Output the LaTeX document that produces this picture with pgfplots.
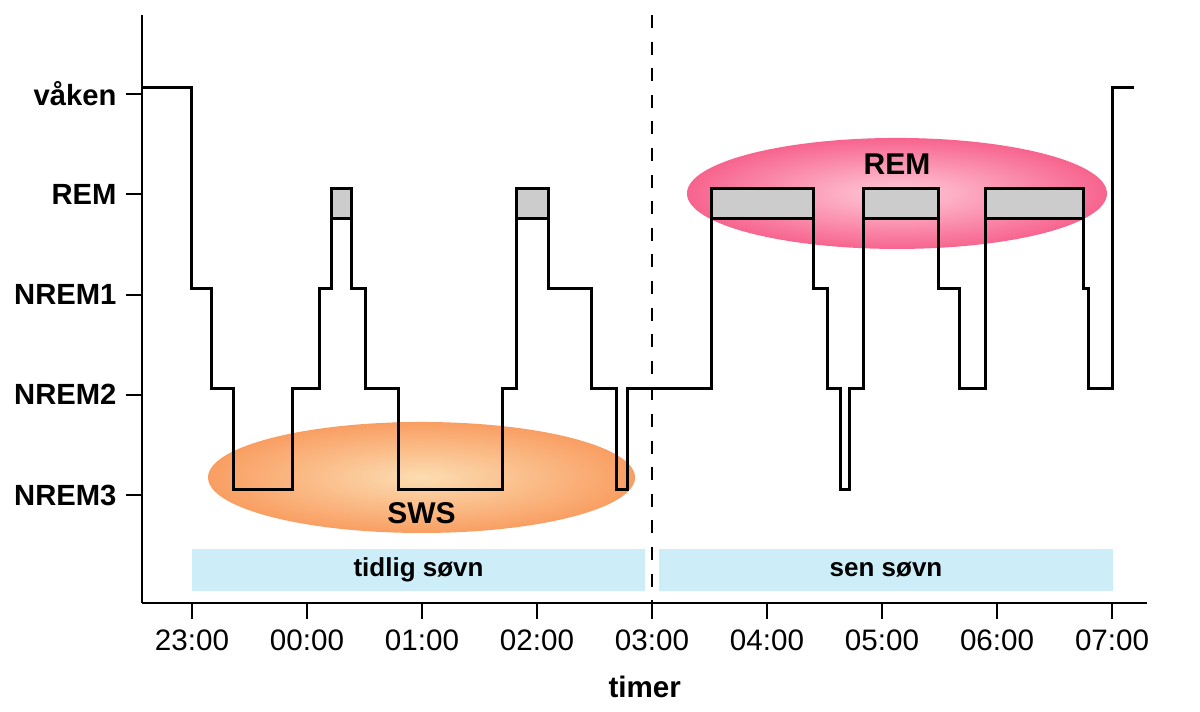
\documentclass[border=0pt]{standalone}
\usepackage{fontspec}
\setmainfont{Liberation Sans}
\usepackage{pgfplots}
\pgfplotsset{compat=1.18}
\definecolor{bandblue}{HTML}{CDEEF8}
\definecolor{remgray}{HTML}{CCCCCC}
\definecolor{swsouter}{HTML}{F99E62}
\definecolor{swsinner}{HTML}{FCDDB2}
\definecolor{remouter}{HTML}{F7648E}
\definecolor{reminner}{HTML}{FFCBDA}
\begin{document}
\begin{tikzpicture}
\useasboundingbox (-71.25pt,-54.5pt) rectangle (528.75pt,301.5pt);
\begin{axis}[
  scale only axis, width=502.25pt, height=294pt,
  xmin=-0.43, xmax=8.304, ymin=-1.137, ymax=4.728,
  axis x line*=bottom, axis y line*=left,
  axis line style={line width=1pt, black},
  tick style={line width=1pt, black},
  tick align=outside, major tick length=8pt,
  xtick={0,1,2,3,4,5,6,7,8},
  xticklabels={23:00,00:00,01:00,02:00,03:00,04:00,05:00,06:00,07:00},
  ytick={-0.06,0.94,1.94,2.94,3.94},
  yticklabels={NREM3,NREM2,NREM1,REM,våken},
  xticklabel style={font=\fontsize{14.8}{17}\selectfont, yshift=-2pt},
  yticklabel style={font=\fontsize{14.6}{17}\selectfont\bfseries, xshift=-1.5pt},
  xlabel={timer},
  xlabel style={font=\fontsize{14.8}{17}\selectfont\bfseries, at={(axis description cs:0.5,0)}, anchor=center, yshift=-42pt},
  clip=false,
  /pgf/number format/assume math mode=true,
]
% highlight ellipses
\shade[inner color=swsinner, outer color=swsouter] (axis cs:1.996,0.115) ellipse [x radius=106.75pt, y radius=27.75pt];
\shade[inner color=reminner, outer color=remouter] (axis cs:6.130,2.948) ellipse [x radius=105pt, y radius=27.75pt];
% period bands
\fill[bandblue] (axis cs:0,-0.599) rectangle (axis cs:3.939,-1.017);
\fill[bandblue] (axis cs:4.061,-0.599) rectangle (axis cs:8.009,-1.017);
\node[font=\fontsize{13}{15}\selectfont\bfseries] at (axis cs:1.97,-0.808) {tidlig søvn};
\node[font=\fontsize{13}{15}\selectfont\bfseries] at (axis cs:6.035,-0.808) {sen søvn};
% REM boxes
\addplot[draw=black, line width=1.5pt, fill=remgray] coordinates {(1.217,2.7) (1.383,2.7) (1.383,3) (1.217,3)} -- cycle;
\addplot[draw=black, line width=1.5pt, fill=remgray] coordinates {(2.826,2.7) (3.104,2.7) (3.104,3) (2.826,3)} -- cycle;
\addplot[draw=black, line width=1.5pt, fill=remgray] coordinates {(4.513,2.7) (5.400,2.7) (5.400,3) (4.513,3)} -- cycle;
\addplot[draw=black, line width=1.5pt, fill=remgray] coordinates {(5.835,2.7) (6.487,2.7) (6.487,3) (5.835,3)} -- cycle;
\addplot[draw=black, line width=1.5pt, fill=remgray] coordinates {(6.896,2.7) (7.748,2.7) (7.748,3) (6.896,3)} -- cycle;
% hypnogram
\addplot[const plot, black, line width=1.5pt, mark=none] coordinates {
(-0.43,4) (0,2) (0.174,1) (0.365,0) (0.878,1) (1.113,2) (1.217,3) (1.383,2)
(1.513,1) (1.800,0) (2.704,1) (2.826,3) (3.104,2) (3.470,1) (3.687,0) (3.783,1)
(4.513,3) (5.400,2) (5.522,1) (5.635,0) (5.713,1) (5.835,3) (6.487,2) (6.670,1)
(6.896,3) (7.748,2) (7.791,1) (8.0,4) (8.191,4)};
% divider
\addplot[black, line width=1pt, dash pattern=on 6.5pt off 6.8pt] coordinates {(4,4.728) (4,-1.137)};
\node[font=\fontsize{15}{17}\selectfont\bfseries] at (axis cs:1.996,-0.239) {SWS};
\node[font=\fontsize{15}{17}\selectfont\bfseries] at (axis cs:6.130,3.242) {REM};
\end{axis}
\end{tikzpicture}
\end{document}
